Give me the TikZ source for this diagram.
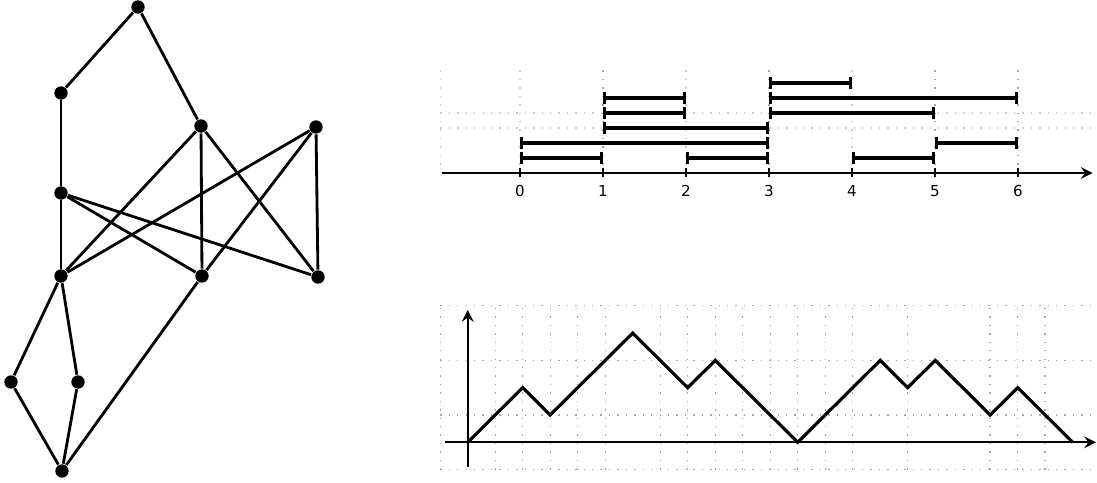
\documentclass[tikz,border=0pt]{standalone}
\usepackage{fontspec}
\setsansfont{DejaVu Sans}
\usetikzlibrary{arrows.meta}
\begin{document}
\begin{tikzpicture}[
    vertex/.style={circle,fill=black,inner sep=0pt,minimum size=3.8pt},
    edge/.style={line width=0.8pt},
    gridline/.style={gray!70,dotted,line width=0.4pt},
    interval/.style={line width=0.9pt,{Bar[width=3.2pt]}-{Bar[width=3.2pt]}},
    ticklabel/.style={font=\sffamily\fontsize{4.3}{5}\selectfont,inner sep=0pt,anchor=base}
]
\useasboundingbox (0,0) rectangle (10.97,4.83);

% the poset
\node[vertex] (a) at (1.38,4.76) {};
\node[vertex] (b) at (0.61,3.90) {};
\node[vertex] (c) at (2.01,3.57) {};
\node[vertex] (d) at (3.16,3.56) {};
\node[vertex] (e) at (0.61,2.90) {};
\node[vertex] (f) at (0.61,2.07) {};
\node[vertex] (g) at (2.02,2.07) {};
\node[vertex] (h) at (3.18,2.06) {};
\node[vertex] (i) at (0.11,1.01) {};
\node[vertex] (j) at (0.78,1.01) {};
\node[vertex] (k) at (0.62,0.12) {};
\foreach \u/\v in {a/b,a/c,b/e,c/f,c/g,c/h,d/f,d/g,d/h,e/f,e/g,e/h,f/i,f/j,i/k,j/k,g/k}
    \draw[edge] (\u)--(\v);

% intervals on the line
\begin{scope}[shift={(5.20,3.10)},x=0.83cm,y=0.15cm]
    \foreach \x in {-0.96,0,2,4}
        \draw[gridline,gray!40] (\x,0)--(\x,7.1);
    \foreach \x in {1,3,5,6}
        \draw[gridline] (\x,0)--(\x,7.1);
    \foreach \y in {3,4}
        \draw[gridline,gray!40] (-0.96,\y)--(6.95,\y);
    \draw[line width=0.5pt,-stealth] (-0.94,0)--(6.9,0);
    \foreach \i in {0,...,6} {
        \draw[line width=0.5pt] (\i,-0.3)--(\i,0.3);
        \node[ticklabel] (t\i) at (\i,-1.6) {\i};
    }
    \foreach \a/\b/\r in {0/1/1,2/3/1,4/5/1,0/3/2,5/6/2,1/3/3,1/2/4,3/5/4,1/2/5,3/6/5,3/4/6}
        \draw[interval] (\a,\r)--(\b,\r);
\end{scope}

% the lattice path
\begin{scope}[shift={(4.677,0.407)},x=0.275cm,y=0.273cm]
    \foreach \x in {-1,1,2,3,4,5,7,8,9,10,11,12,13,14,16,19,20,21}
        \draw[gridline] (\x,-1)--(\x,5);
    \foreach \y in {-1,1,3,5}
        \draw[gridline] (-1,\y)--(22.9,\y);
    \draw[line width=0.5pt,-stealth] (-0.83,0)--(22.85,0);
    \draw[line width=0.5pt,-stealth] (0,-0.9)--(0,4.85);
    \draw[line width=0.9pt,line join=miter] (0,0)--(2,2)--(3,1)--(6,4)--(8,2)--(9,3)--(12,0)
        --(15,3)--(16,2)--(17,3)--(19,1)--(20,2)--(22,0);
\end{scope}
\end{tikzpicture}
\end{document}
